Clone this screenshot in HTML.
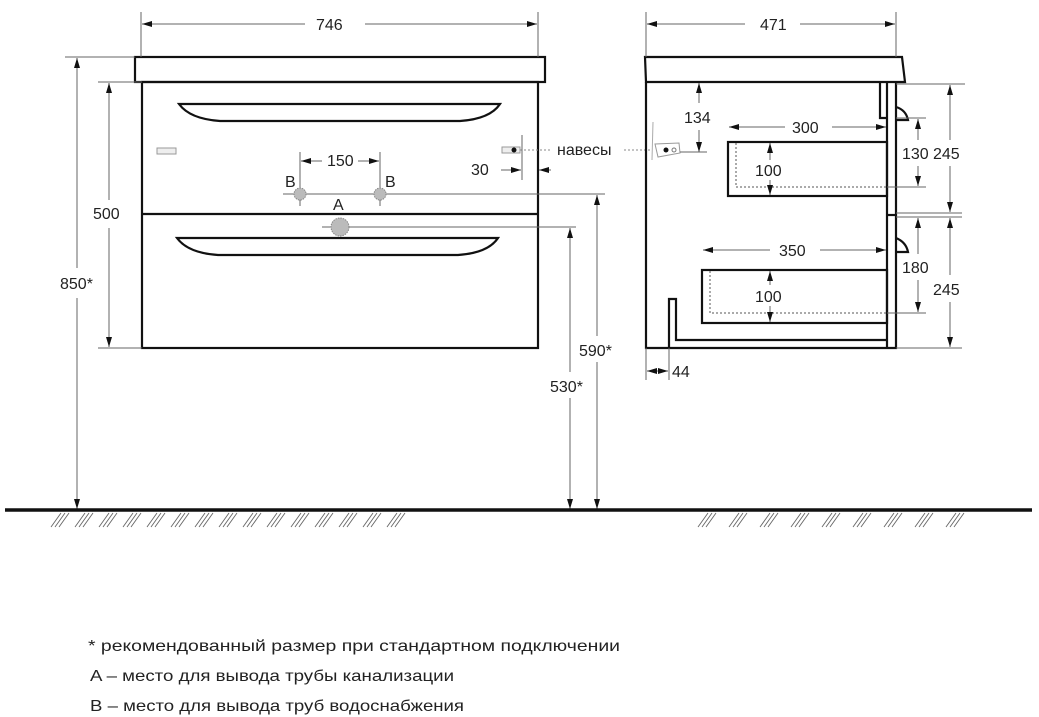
<!DOCTYPE html>
<html><head><meta charset="utf-8"><style>
html,body{margin:0;padding:0;background:#fff;}
svg{display:block;font-family:"Liberation Sans","DejaVu Sans",sans-serif;}
.t{font-size:16px;fill:#222;}
.d{stroke:#666;stroke-width:1;fill:none;}
.k{stroke:#111;stroke-width:2.2;fill:none;}
</style></head><body>
<svg id="s" width="1039" height="717" viewBox="0 0 1039 717" xmlns="http://www.w3.org/2000/svg">
<defs>
<marker id="a" markerWidth="10" markerHeight="6" refX="10" refY="3" orient="auto-start-reverse" markerUnits="userSpaceOnUse"><path d="M0,0 L10,3 L0,6z" fill="#111"/></marker>
</defs>
<rect width="1039" height="717" fill="#fff"/>

<!-- FRONT VIEW -->
<rect x="135" y="57" width="410" height="25" class="k"/>
<rect x="142" y="82" width="396" height="266" class="k"/>
<line x1="142" y1="214" x2="538" y2="214" class="k"/>
<path d="M179,104 L500,104 Q490,119 460,121 L220,121 Q190,119 179,104z" class="k"/>
<path d="M177,238 L498,238 Q488,253 458,255 L218,255 Q188,253 177,238z" class="k"/>
<rect x="157" y="148" width="19" height="6" fill="#eee" stroke="#999"/>
<rect x="502" y="147" width="18" height="6" fill="#eee" stroke="#999"/>
<circle cx="514" cy="150" r="2.5" fill="#111"/>
<line x1="520" y1="150" x2="650" y2="150" stroke="#888" stroke-dasharray="2,2"/>
<rect x="552" y="138" width="72" height="22" fill="#fff"/>
<text x="557" y="155" class="t">навесы</text>

<!-- 746 -->
<line x1="141" y1="12" x2="141" y2="57" class="d"/>
<line x1="538" y1="12" x2="538" y2="57" class="d"/>
<line x1="142" y1="24" x2="305" y2="24" class="d" marker-start="url(#a)"/>
<line x1="365" y1="24" x2="537" y2="24" class="d" marker-end="url(#a)"/>
<text x="316" y="30" class="t">746</text>
<!-- 850 -->
<line x1="65" y1="57" x2="135" y2="57" class="d"/>
<line x1="77" y1="58" x2="77" y2="268" class="d" marker-start="url(#a)"/>
<line x1="77" y1="298" x2="77" y2="509" class="d" marker-end="url(#a)"/>
<text x="60" y="289" class="t">850*</text>
<!-- 500 -->
<line x1="98" y1="82" x2="142" y2="82" class="d"/>
<line x1="98" y1="348" x2="142" y2="348" class="d"/>
<line x1="109" y1="83" x2="109" y2="200" class="d" marker-start="url(#a)"/>
<line x1="109" y1="228" x2="109" y2="347" class="d" marker-end="url(#a)"/>
<text x="93" y="219" class="t">500</text>
<!-- 150 -->
<line x1="300" y1="152" x2="300" y2="206" class="d"/>
<line x1="380" y1="152" x2="380" y2="206" class="d"/>
<line x1="301" y1="161" x2="322" y2="161" class="d" marker-start="url(#a)"/>
<line x1="358" y1="161" x2="379" y2="161" class="d" marker-end="url(#a)"/>
<text x="327" y="166" class="t">150</text>
<!-- B/A -->
<line x1="283" y1="194" x2="605" y2="194" class="d"/>
<line x1="322" y1="227" x2="576" y2="227" class="d"/>
<circle cx="300" cy="194" r="6" fill="#bbb" stroke="#888" stroke-dasharray="1.5,1"/>
<circle cx="380" cy="194" r="6" fill="#bbb" stroke="#888" stroke-dasharray="1.5,1"/>
<circle cx="340" cy="227" r="9" fill="#bbb" stroke="#888" stroke-dasharray="1.5,1"/>
<text x="285" y="187" class="t">B</text>
<text x="385" y="187" class="t">B</text>
<text x="333" y="210" class="t">A</text>
<!-- 30 -->
<line x1="522" y1="135" x2="522" y2="180" class="d"/>
<line x1="501" y1="170" x2="521" y2="170" class="d" marker-end="url(#a)"/>
<line x1="551" y1="170" x2="539" y2="170" class="d" marker-end="url(#a)"/>
<text x="471" y="175" class="t">30</text>
<!-- 590 / 530 -->
<line x1="597" y1="195" x2="597" y2="336" class="d" marker-start="url(#a)"/>
<line x1="597" y1="362" x2="597" y2="509" class="d" marker-end="url(#a)"/>
<text x="579" y="356" class="t">590*</text>
<line x1="570" y1="228" x2="570" y2="372" class="d" marker-start="url(#a)"/>
<line x1="570" y1="398" x2="570" y2="509" class="d" marker-end="url(#a)"/>
<text x="550" y="392" class="t">530*</text>

<!-- SIDE VIEW -->
<path d="M645,57 L902,57 L905,82 L646,82z" class="k"/>
<path d="M646,82 L646,348 L896,348 L896,82" class="k"/>
<line x1="887" y1="82" x2="887" y2="348" class="k" stroke-width="2"/>
<line x1="887" y1="215" x2="896" y2="215" class="k" stroke-width="3"/>
<path d="M880,82 L880,118 L887,118" class="k" stroke-width="2"/>
<path d="M896,107 Q906,110 908,120 L896,120" class="k" stroke-width="2"/>
<path d="M896,238 Q906,242 908,252 L896,252" class="k" stroke-width="2"/>
<rect x="728" y="142" width="159" height="54" class="k"/>
<path d="M736,143 L736,187 L887,187" stroke="#555" stroke-dasharray="2,2" fill="none"/>
<rect x="702" y="270" width="185" height="53" class="k"/>
<path d="M710,271 L710,313 L887,313" stroke="#555" stroke-dasharray="2,2" fill="none"/>
<path d="M669,348 L669,299 L676,299 L676,340 L887,340" class="k" stroke-width="2"/>
<!-- hanger icon -->
<path d="M653,122 L652,160" stroke="#aaa" fill="none"/>
<path d="M655,144 L679,143 L680,153 L658,157z" stroke="#999" fill="#fff"/>
<circle cx="666" cy="150" r="2.5" fill="#111"/>
<circle cx="674" cy="150" r="2" fill="none" stroke="#777"/>
<!-- 471 -->
<line x1="646" y1="12" x2="646" y2="57" class="d"/>
<line x1="896" y1="12" x2="896" y2="57" class="d"/>
<line x1="647" y1="24" x2="745" y2="24" class="d" marker-start="url(#a)"/>
<line x1="800" y1="24" x2="895" y2="24" class="d" marker-end="url(#a)"/>
<text x="760" y="30" class="t">471</text>
<!-- 134 -->
<line x1="699" y1="83" x2="699" y2="103" class="d" marker-start="url(#a)"/>
<line x1="699" y1="130" x2="699" y2="152" class="d" marker-end="url(#a)"/>
<line x1="680" y1="152" x2="707" y2="152" class="d"/>
<text x="684" y="123" class="t">134</text>
<!-- 300 -->
<line x1="729" y1="127" x2="785" y2="127" class="d" marker-start="url(#a)"/>
<line x1="832" y1="127" x2="886" y2="127" class="d" marker-end="url(#a)"/>
<text x="792" y="133" class="t">300</text>
<!-- 350 -->
<line x1="703" y1="250" x2="770" y2="250" class="d" marker-start="url(#a)"/>
<line x1="820" y1="250" x2="886" y2="250" class="d" marker-end="url(#a)"/>
<text x="779" y="256" class="t">350</text>
<!-- 100s -->
<line x1="770" y1="143" x2="770" y2="160" class="d" marker-start="url(#a)"/>
<line x1="770" y1="180" x2="770" y2="195" class="d" marker-end="url(#a)"/>
<text x="755" y="176" class="t">100</text>
<line x1="770" y1="271" x2="770" y2="285" class="d" marker-start="url(#a)"/>
<line x1="770" y1="306" x2="770" y2="322" class="d" marker-end="url(#a)"/>
<text x="755" y="302" class="t">100</text>
<!-- right dims -->
<line x1="896" y1="84" x2="965" y2="84" class="d"/>
<line x1="896" y1="118" x2="926" y2="118" class="d"/>
<line x1="887" y1="187" x2="926" y2="187" class="d"/>
<line x1="896" y1="213" x2="962" y2="213" class="d"/>
<line x1="896" y1="217" x2="962" y2="217" class="d"/>
<line x1="887" y1="313" x2="926" y2="313" class="d"/>
<line x1="896" y1="348" x2="962" y2="348" class="d"/>
<line x1="918" y1="119" x2="918" y2="140" class="d" marker-start="url(#a)"/>
<line x1="918" y1="166" x2="918" y2="186" class="d" marker-end="url(#a)"/>
<text x="902" y="159" class="t">130</text>
<line x1="950" y1="85" x2="950" y2="140" class="d" marker-start="url(#a)"/>
<line x1="950" y1="166" x2="950" y2="212" class="d" marker-end="url(#a)"/>
<text x="933" y="159" class="t">245</text>
<line x1="918" y1="218" x2="918" y2="254" class="d" marker-start="url(#a)"/>
<line x1="918" y1="280" x2="918" y2="312" class="d" marker-end="url(#a)"/>
<text x="902" y="273" class="t">180</text>
<line x1="950" y1="218" x2="950" y2="275" class="d" marker-start="url(#a)"/>
<line x1="950" y1="302" x2="950" y2="347" class="d" marker-end="url(#a)"/>
<text x="933" y="295" class="t">245</text>
<!-- 44 -->
<line x1="646" y1="348" x2="646" y2="380" class="d"/>
<line x1="669" y1="348" x2="669" y2="380" class="d"/>
<line x1="647" y1="371" x2="668" y2="371" class="d" marker-end="url(#a)" marker-start="url(#a)"/>
<text x="672" y="377" class="t">44</text>

<!-- floor -->
<line x1="5" y1="510" x2="1032" y2="510" stroke="#111" stroke-width="3.5"/>
<g id="h" stroke="#666" stroke-width="0.9"></g>

<text x="88" y="651" class="t" textLength="532" lengthAdjust="spacingAndGlyphs">* рекомендованный размер при стандартном подключении</text>
<text x="90" y="681" class="t" textLength="364" lengthAdjust="spacingAndGlyphs">A – место для вывода трубы канализации</text>
<text x="90" y="711" class="t" textLength="374" lengthAdjust="spacingAndGlyphs">B – место для вывода труб водоснабжения</text>
</svg>
<script>
var g=document.getElementById('h'),s='';
function grp(x){for(var i=0;i<3;i++){var a=x+i*4;s+='<line x1="'+(a+10)+'" y1="513" x2="'+a+'" y2="527"/>';}}
for(var x=51;x<410;x+=24)grp(x);
for(var x=698;x<975;x+=31)grp(x);
g.innerHTML=s;
</script>
</body></html>
